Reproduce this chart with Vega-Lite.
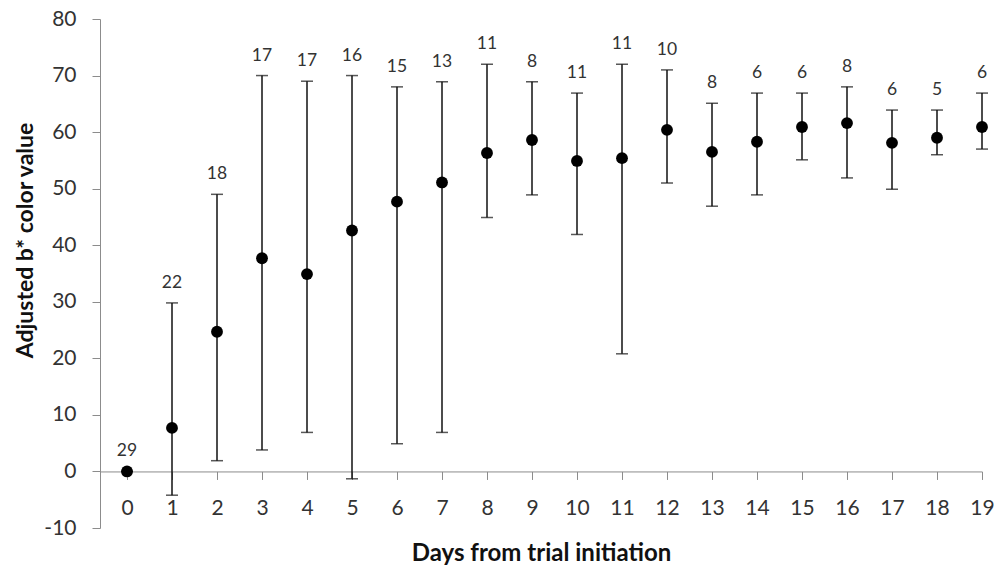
{
  "$schema": "https://vega.github.io/schema/vega-lite/v6.json",
  "width": 882,
  "height": 509,
  "autosize": "none",
  "padding": {"left": 100, "top": 19, "right": 19, "bottom": 43},
  "background": "white",
  "config": {"view": {"stroke": null}, "font": "Lato"},
  "data": {
    "values": [
      {"day": 0, "mean": 0, "lo": 0, "hi": 0, "n": 29},
      {"day": 1, "mean": 7.7, "lo": -4.2, "hi": 29.8, "n": 22},
      {"day": 2, "mean": 24.7, "lo": 1.9, "hi": 49, "n": 18},
      {"day": 3, "mean": 37.7, "lo": 3.8, "hi": 70, "n": 17},
      {"day": 4, "mean": 34.9, "lo": 6.9, "hi": 69, "n": 17},
      {"day": 5, "mean": 42.6, "lo": -1.3, "hi": 70, "n": 16},
      {"day": 6, "mean": 47.7, "lo": 4.9, "hi": 68, "n": 15},
      {"day": 7, "mean": 51.1, "lo": 6.9, "hi": 68.9, "n": 13},
      {"day": 8, "mean": 56.3, "lo": 44.9, "hi": 72, "n": 11},
      {"day": 9, "mean": 58.6, "lo": 48.9, "hi": 68.9, "n": 8},
      {"day": 10, "mean": 54.9, "lo": 41.9, "hi": 66.9, "n": 11},
      {"day": 11, "mean": 55.4, "lo": 20.8, "hi": 72, "n": 11},
      {"day": 12, "mean": 60.4, "lo": 51, "hi": 71, "n": 10},
      {"day": 13, "mean": 56.5, "lo": 46.9, "hi": 65.1, "n": 8},
      {"day": 14, "mean": 58.3, "lo": 48.9, "hi": 66.9, "n": 6},
      {"day": 15, "mean": 60.9, "lo": 55.1, "hi": 66.9, "n": 6},
      {"day": 16, "mean": 61.6, "lo": 51.9, "hi": 68, "n": 8},
      {"day": 17, "mean": 58.1, "lo": 49.9, "hi": 63.9, "n": 6},
      {"day": 18, "mean": 59, "lo": 56, "hi": 63.9, "n": 5},
      {"day": 19, "mean": 60.9, "lo": 57, "hi": 66.9, "n": 6}
    ]
  },
  "encoding": {
    "x": {
      "field": "day",
      "type": "quantitative",
      "scale": {"domain": [-0.6, 19], "nice": false, "zero": false},
      "axis": {
        "title": "Days from trial initiation",
        "values": [0,1,2,3,4,5,6,7,8,9,10,11,12,13,14,15,16,17,18,19],
        "labelExpr": "'' + datum.value",
        "offset": -56.56,
        "grid": false,
        "domainColor": "#8c8c8c",
        "domainWidth": 1,
        "tickColor": "#8c8c8c",
        "tickSize": 8,
        "tickWidth": 1,
        "labelFont": "Lato",
        "labelFontSize": 21,
        "labelColor": "#333333",
        "labelPadding": 18,
        "labelFlush": false,
        "labelOverlap": false,
        "titleFont": "Lato",
        "titleFontSize": 24,
        "titleFontWeight": "bold",
        "titleColor": "#111111",
        "titlePadding": 23
      }
    }
  },
  "layer": [
    {
      "mark": {"type": "rule", "color": "#111111", "strokeWidth": 1.5},
      "encoding": {
        "y": {
          "field": "lo",
          "type": "quantitative",
          "scale": {"domain": [-10, 80], "nice": false, "zero": false},
          "axis": {
            "title": "Adjusted b* color value",
            "values": [-10,0,10,20,30,40,50,60,70,80],
            "labelExpr": "'' + datum.value",
            "grid": false,
            "domainColor": "#8c8c8c",
            "domainWidth": 1,
            "tickColor": "#8c8c8c",
            "tickSize": 8,
            "tickWidth": 1,
            "labelFont": "Lato",
            "labelFontSize": 21,
            "labelColor": "#333333",
            "labelPadding": 16,
            "labelFlush": false,
            "titleFont": "Lato",
            "titleFontSize": 23,
            "titleFontWeight": "bold",
            "titleColor": "#111111",
            "titleAngle": -90,
            "titleX": -75,
            "titleY": 221,
            "titleBaseline": "middle",
            "titleAlign": "center"
          }
        },
        "y2": {"field": "hi"}
      }
    },
    {
      "mark": {"type": "tick", "orient": "horizontal", "color": "#111111", "size": 12, "thickness": 1.5},
      "encoding": {"y": {"field": "hi", "type": "quantitative"}}
    },
    {
      "mark": {"type": "tick", "orient": "horizontal", "color": "#111111", "size": 12, "thickness": 1.5},
      "encoding": {"y": {"field": "lo", "type": "quantitative"}}
    },
    {
      "mark": {"type": "point", "filled": true, "shape": "circle", "size": 140, "color": "#000000", "opacity": 1},
      "encoding": {"y": {"field": "mean", "type": "quantitative"}}
    },
    {
      "mark": {"type": "text", "font": "Lato", "fontSize": 17.5, "color": "#333333", "dy": -20, "baseline": "middle", "align": "center"},
      "encoding": {
        "y": {"field": "hi", "type": "quantitative"},
        "text": {"field": "n", "type": "nominal"}
      }
    }
  ]
}
